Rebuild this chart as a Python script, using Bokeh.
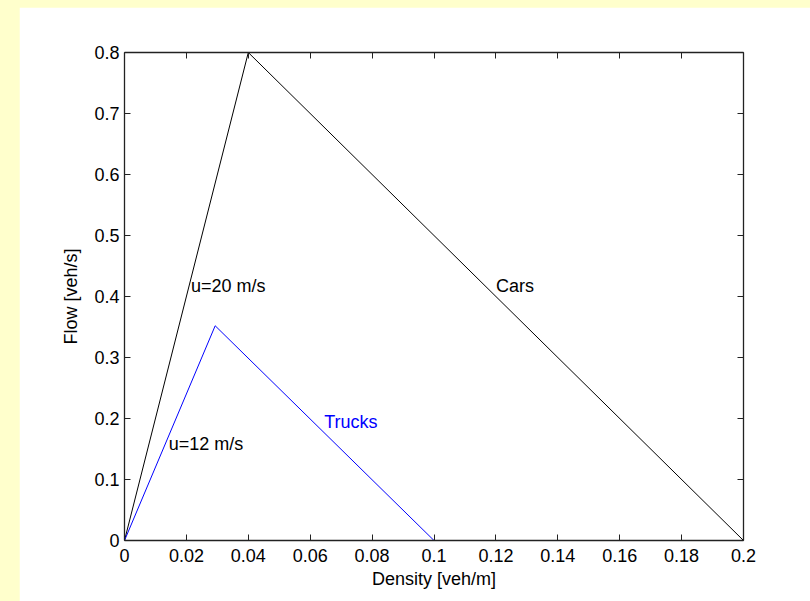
from bokeh.plotting import figure
from bokeh.models import LinearAxis, FixedTicker, Range1d, Spacer
from bokeh.layouts import row
from bokeh.core.properties import value
from bokeh.embed import file_html
from bokeh.resources import INLINE

# ---- data ----
cars_density = [0.0, 0.04, 0.2]
cars_flow = [0.0, 0.8, 0.0]
trucks_density = [0.0, 0.0293, 0.1]
trucks_flow = [0.0, 0.352, 0.0]

label_text = ["u=20 m/s", "Cars", "Trucks", "u=12 m/s"]
label_x = [0.0215, 0.1200, 0.0645, 0.0143]
label_y = [0.418, 0.418, 0.195, 0.158]
label_color = ["black", "black", "blue", "black"]

x_ticks = [0, 0.02, 0.04, 0.06, 0.08, 0.1, 0.12, 0.14, 0.16, 0.18, 0.2]
x_tick_labels = ["0", "0.02", "0.04", "0.06", "0.08", "0.1", "0.12", "0.14", "0.16", "0.18", "0.2"]
y_ticks = [0, 0.1, 0.2, 0.3, 0.4, 0.5, 0.6, 0.7, 0.8]
y_tick_labels = ["0", "0.1", "0.2", "0.3", "0.4", "0.5", "0.6", "0.7", "0.8"]

FONT = "Liberation Sans"
FS = "18px"

p = figure(width=791, height=594, output_backend="svg", toolbar_location=None,
           x_range=Range1d(0, 0.2), y_range=Range1d(0, 0.8),
           x_axis_label="Density [veh/m]", y_axis_label="Flow [veh/s]",
           min_border_left=105, min_border_right=67, min_border_top=45, min_border_bottom=61)
p.background_fill_color = "white"
p.border_fill_color = "white"
p.outline_line_color = None
p.xgrid.visible = False
p.ygrid.visible = False

def style_axis(ax, ticks, labels, show_labels=True):
    ax.ticker = FixedTicker(ticks=ticks)
    ax.major_label_overrides = {t: (l if show_labels else "") for t, l in zip(ticks, labels)}
    ax.major_tick_in = 6
    ax.major_tick_out = 0
    ax.minor_tick_in = 0
    ax.minor_tick_out = 0
    ax.axis_line_color = "#222222"
    ax.axis_line_width = 1.3
    ax.major_tick_line_color = "#222222"
    ax.major_label_text_font = FONT
    ax.major_label_text_font_size = FS
    ax.major_label_text_color = "black"
    ax.major_label_standoff = 5
    ax.axis_label_text_font = FONT
    ax.axis_label_text_font_size = FS
    ax.axis_label_text_font_style = "normal"
    ax.axis_label_text_color = "black"

style_axis(p.xaxis[0], x_ticks, x_tick_labels)
style_axis(p.yaxis[0], y_ticks, y_tick_labels)
p.xaxis[0].major_label_standoff = 8
p.xaxis[0].axis_label_standoff = 4
p.yaxis[0].axis_label_standoff = 10

top = LinearAxis()
style_axis(top, x_ticks, x_tick_labels, show_labels=False)
top.major_label_text_font_size = "0px"
p.add_layout(top, "above")
right = LinearAxis()
style_axis(right, y_ticks, y_tick_labels, show_labels=False)
right.major_label_text_font_size = "0px"
p.add_layout(right, "right")

p.line(cars_density, cars_flow, line_color="black", line_width=1)
p.line(trucks_density, trucks_flow, line_color="blue", line_width=1)

p.text(x=label_x, y=label_y, text=label_text, text_color=label_color,
       text_font=value(FONT), text_font_size=FS,
       text_align="left", text_baseline="middle")

layout = row(Spacer(width=11, height=594), p)

html = file_html(layout, INLINE)
html = html.replace("</head>", "<style>html,body{background:#FFFFCC;margin:0;overflow:hidden;}body{padding:7px 0 0 8px;}</style></head>", 1)
open("out.html", "w").write(html)
